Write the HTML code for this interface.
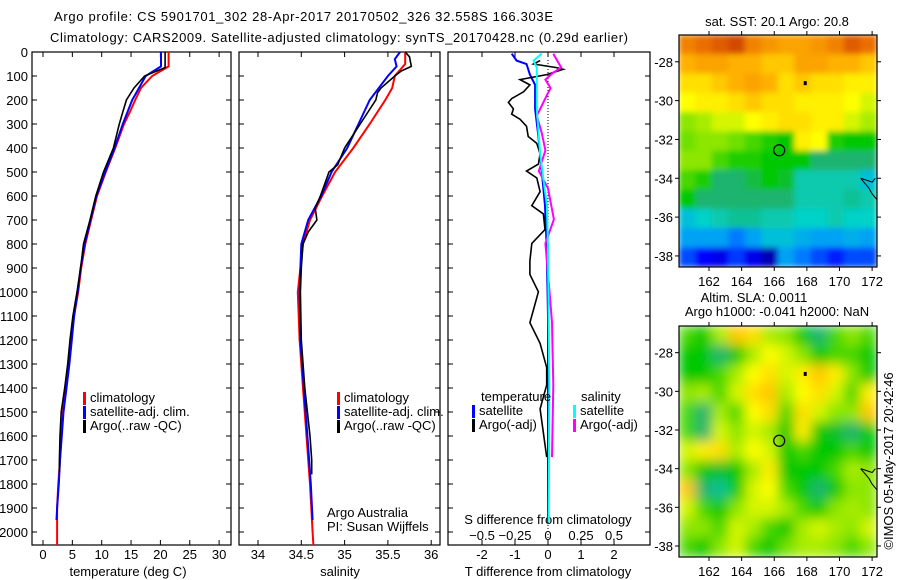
<!DOCTYPE html>
<html><head><meta charset="utf-8"><style>
body{margin:0;background:#fff}
svg{display:block;font-family:"Liberation Sans",sans-serif}
text{font-size:12px;fill:#000}
</style></head><body>
<svg id="fig" width="900" height="580" viewBox="0 0 900 580">
<text x="54" y="21" textLength="499" style="font-size:13px">Argo profile: CS 5901701_302 28-Apr-2017 20170502_326 32.558S 166.303E</text>
<text x="50" y="42" textLength="578" style="font-size:13px">Climatology: CARS2009. Satellite-adjusted climatology: synTS_20170428.nc (0.29d earlier)</text>
<g id="g"></g>
</svg>
<script>
// ---- depth profile data ----
const tClimDepth=[0,60,100,150,200,250,300,400,500,600,700,800,900,1000,1100,1200,1300,1400,1500,1600,1700,1800,1900,2000,2054];
const tClimVal=[21.4,21.4,18.6,16.7,15.7,14.8,13.8,12.3,10.7,9.2,8.2,7.2,6.5,6.0,5.3,4.8,4.4,3.9,3.4,3.1,2.9,2.6,2.4,2.4,2.4];
const tSatDepth=[0,60,100,200,300,400,500,600,700,800,900,1000,1100,1200,1300,1400,1500,1600,1700,1800,1900,1950];
const tSatVal=[20.1,20.1,17.5,15.2,13.6,12.2,10.6,9.1,8.1,7.1,6.4,5.9,5.3,4.9,4.5,4.0,3.5,3.2,2.9,2.7,2.4,2.3];
const tArgoDepth=[0,65,100,150,200,250,300,400,500,600,700,800,900,1000,1100,1200,1300,1400,1500,1600,1700,1750];
const tArgoVal=[20.8,20.8,17.3,15.5,14.2,13.6,13.0,12.0,10.3,9.0,8.0,6.9,6.4,5.8,5.1,4.6,4.2,3.7,3.1,2.9,2.8,2.8];
const sClimDepth=[0,50,100,150,200,300,400,500,600,700,800,900,1000,1200,1400,1600,1800,2000,2054];
const sClimVal=[35.70,35.70,35.58,35.55,35.47,35.29,35.10,34.89,34.74,34.60,34.52,34.49,34.46,34.48,34.52,34.56,34.60,34.63,34.64];
const sSatDepth=[0,30,60,100,200,300,400,500,600,700,800,900,1000,1200,1400,1600,1800,1950];
const sSatVal=[35.64,35.58,35.60,35.50,35.29,35.16,35.03,34.85,34.73,34.58,34.50,34.49,34.48,34.49,34.53,34.57,34.61,34.63];
const sArgoDepth=[0,20,60,80,100,150,170,200,250,300,400,470,500,600,650,700,750,800,900,1000,1200,1400,1600,1700,1760];
const sArgoVal=[35.70,35.75,35.77,35.65,35.58,35.42,35.38,35.36,35.27,35.18,35.00,34.92,34.82,34.72,34.66,34.68,34.58,34.52,34.50,34.49,34.50,34.54,34.60,34.62,34.62];
const dTArgoDepth=[36,50,65,72,94,115,137,166,194,210,237,259,280,309,352,381,424,467,496,525,582,640,675,740,798,870,927,999,1128,1214,1315,1387,1487,1688];
const dTArgoVal=[-0.24,-0.44,0.26,0.46,-0.04,-0.85,-0.55,-0.74,-1.1,-1.2,-1.05,-1.1,-0.85,-0.65,-0.6,-0.34,-0.24,-0.29,-0.65,-0.34,-0.24,-0.49,-0.14,-0.09,-0.49,-0.55,-0.55,-0.29,-0.55,-0.24,-0.04,-0.04,-0.24,-0.04];
const dTSatDepth=[7,36,50,94,137,237,352,496,640,812,1100,1960];
const dTSatVal=[-1.1,-0.95,-0.65,-0.55,-0.39,-0.39,-0.29,-0.19,-0.09,-0.04,0,0];
const dSSatDepth=[7,36,65,237,424,640,812,1387,1960];
const dSSatVal=[-0.048,-0.11,-0.085,-0.085,-0.06,-0.008,0,0.01,0.005];
const dSArgoDepth=[7,65,86,115,151,180,266,338,410,496,568,625,697,798,956,1128,1387,1688];
const dSArgoVal=[0.04,0.10,0.04,-0.02,0.02,-0.008,-0.085,-0.047,-0.02,-0.07,0,0.02,0.045,-0.02,0.005,0.03,0.04,0.03];
const depthTicks=[0,100,200,300,400,500,600,700,800,900,1000,1100,1200,1300,1400,1500,1600,1700,1800,1900,2000];
const tTicks=[0,5,10,15,20,25,30];
const sTicks=[34,34.5,35,35.5,36];
const dTTicks=[-2,-1,0,1,2];
const dSTicks=[-0.5,-0.25,0,0.25,0.5];
// ---- map data (rows north->south, cols west->east) ----
const sstGrid=[
[0.85,0.88,0.9,0.92,0.85,0.82,0.8,0.8,0.82,0.85,0.9,0.88],
[0.78,0.8,0.8,0.78,0.78,0.75,0.75,0.8,0.8,0.78,0.78,0.75],
[0.72,0.72,0.75,0.78,0.8,0.78,0.72,0.75,0.72,0.72,0.7,0.7],
[0.68,0.7,0.7,0.72,0.75,0.72,0.72,0.7,0.7,0.7,0.68,0.65],
[0.6,0.62,0.65,0.65,0.68,0.7,0.72,0.72,0.7,0.7,0.65,0.62],
[0.58,0.6,0.6,0.58,0.55,0.52,0.5,0.7,0.68,0.52,0.5,0.5],
[0.6,0.6,0.55,0.52,0.52,0.5,0.5,0.5,0.45,0.45,0.45,0.45],
[0.55,0.52,0.45,0.45,0.47,0.5,0.48,0.4,0.4,0.4,0.4,0.35],
[0.5,0.45,0.45,0.45,0.45,0.45,0.45,0.4,0.4,0.4,0.42,0.4],
[0.35,0.38,0.4,0.42,0.42,0.4,0.4,0.38,0.38,0.4,0.38,0.38],
[0.3,0.3,0.3,0.25,0.3,0.35,0.35,0.32,0.3,0.3,0.32,0.3],
[0.2,0.12,0.1,0.18,0.1,0.05,0.3,0.25,0.2,0.15,0.2,0.2]];
const slaGrid=[
[0.55,0.5,0.62,0.75,0.72,0.62,0.6,0.5,0.45,0.55,0.6,0.55],
[0.5,0.5,0.45,0.5,0.62,0.68,0.65,0.6,0.5,0.55,0.55,0.5],
[0.5,0.5,0.55,0.62,0.68,0.72,0.65,0.7,0.75,0.7,0.6,0.5],
[0.6,0.62,0.55,0.65,0.72,0.75,0.62,0.68,0.72,0.65,0.55,0.7],
[0.55,0.45,0.62,0.55,0.68,0.72,0.55,0.72,0.65,0.6,0.6,0.75],
[0.55,0.45,0.65,0.6,0.65,0.62,0.5,0.7,0.5,0.48,0.45,0.5],
[0.65,0.7,0.72,0.62,0.68,0.65,0.5,0.55,0.5,0.5,0.55,0.5],
[0.6,0.5,0.48,0.5,0.62,0.7,0.5,0.5,0.5,0.55,0.62,0.6],
[0.75,0.45,0.42,0.5,0.65,0.68,0.55,0.5,0.45,0.5,0.6,0.6],
[0.65,0.55,0.5,0.6,0.65,0.65,0.62,0.55,0.5,0.6,0.62,0.6],
[0.6,0.6,0.55,0.65,0.62,0.55,0.5,0.62,0.65,0.62,0.6,0.65],
[0.55,0.5,0.6,0.65,0.55,0.5,0.58,0.62,0.62,0.6,0.55,0.6]];
const lonTicks=[162,164,166,168,170,172];
const latTicks=[-28,-30,-32,-34,-36,-38];
const argoLon=166.303, argoLat=-32.558;

const NS='http://www.w3.org/2000/svg';
const G=document.getElementById('g');
function el(tag,attrs,parent){const e=document.createElementNS(NS,tag);for(const k in attrs)e.setAttribute(k,attrs[k]);(parent||G).appendChild(e);return e;}
function txt(x,y,s,anchor,size,parent){const t=el('text',{x:x,y:y,'text-anchor':anchor||'start'},parent);if(size)t.style.fontSize=size+'px';t.textContent=s;return t;}

const yTop=52,yBot=545;
const yD=d=>yTop+d*0.24;
const panels=[{x0:32,x1:231,name:'temperature-panel'},{x0:239,x1:440,name:'salinity-panel'},{x0:448,x1:650,name:'difference-panel'}];
const xT=v=>43+5.87*v, xS=v=>258+86.6*(v-34), xDT=v=>548+33*v, xDS=v=>548+132*v;

panels.forEach(p=>{
  const r=el('rect',{x:p.x0,y:yTop,width:p.x1-p.x0,height:yBot-yTop,fill:'none',stroke:'#000','stroke-width':1.2});
  
  
  depthTicks.forEach(d=>{
    el('line',{x1:p.x0,x2:p.x0+5,y1:yD(d),y2:yD(d),stroke:'#000'});
    el('line',{x1:p.x1-5,x2:p.x1,y1:yD(d),y2:yD(d),stroke:'#000'});
  });
});
depthTicks.forEach(d=>{const t=txt(28,yD(d)+5,String(d),'end',13);
  
  });
function xticks(ticks,fx,ly){ticks.forEach(v=>{const x=fx(v);
  el('line',{x1:x,x2:x,y1:yBot-5,y2:yBot,stroke:'#000'});el('line',{x1:x,x2:x,y1:yTop,y2:yTop+5,stroke:'#000'});
  const t=txt(x,ly,String(v),'middle',13);
  
  });}
xticks(tTicks,xT,559);
xticks(sTicks,xS,559);
xticks(dTTicks,xDT,559);
dSTicks.forEach(v=>{const t=txt(xDS(v),540,String(v).replace('-','\u2212'),'middle',13);
  
  });
[[128,'temperature (deg C)','temperature-axis-title'],[340,'salinity','salinity-axis-title'],[548,'T difference from climatology','t-diff-axis-title']].forEach(a=>{
  const t=txt(a[0],576,a[1],'middle',13);
  
  });
const sdt=txt(548,524,'S difference from climatology','middle',13);


el('line',{x1:548,x2:548,y1:60,y2:545,stroke:'#000','stroke-dasharray':'1,2'});

function line(ds,vs,fx,color,w,name){
  const pts=ds.map((d,i)=>fx(vs[i]).toFixed(1)+','+yD(d).toFixed(1)).join(' ');
  const l=el('polyline',{points:pts,fill:'none',stroke:color,'stroke-width':w});
  
  
}
line(tClimDepth,tClimVal,xT,'#f00',2,'temp-climatology-line');
line(tSatDepth,tSatVal,xT,'#00f',2,'temp-satellite-line');
line(tArgoDepth,tArgoVal,xT,'#000',1.6,'temp-argo-line');
line(sClimDepth,sClimVal,xS,'#f00',2,'sal-climatology-line');
line(sSatDepth,sSatVal,xS,'#00f',2,'sal-satellite-line');
line(sArgoDepth,sArgoVal,xS,'#000',1.6,'sal-argo-line');
line(dTSatDepth,dTSatVal,xDT,'#00f',2,'t-diff-satellite-line');
line(dTArgoDepth,dTArgoVal,xDT,'#000',1.6,'t-diff-argo-line');
line(dSArgoDepth,dSArgoVal,xDS,'#f0f',2,'s-diff-argo-line');
line(dSSatDepth,dSSatVal,xDS,'#0ff',2,'s-diff-satellite-line');

function legend(x,y,color,label,name){
  const m=el('rect',{x:x,y:y-10,width:3,height:13,fill:color});
  
  
  const t=txt(x+7,y,label,'start',13);
  
  
}
legend(83,402,'#f00','climatology','legend-climatology');
legend(83,416,'#00f','satellite-adj. clim.','legend-satellite-adj');
legend(83,430,'#000','Argo(..raw -QC)','legend-argo');
legend(337,402,'#f00','climatology','legend-sal-climatology');
legend(337,416,'#00f','satellite-adj. clim.','legend-sal-satellite-adj');
legend(337,430,'#000','Argo(..raw -QC)','legend-sal-argo');
const lt=txt(481,401,'temperature','start',13);
const ls=txt(581,401,'salinity','start',13);
legend(472,415,'#00f','satellite','legend-t-satellite');
legend(472,429,'#000','Argo(-adj)','legend-t-argo');
legend(573,415,'#0ff','satellite','legend-s-satellite');
legend(573,429,'#f0f','Argo(-adj)','legend-s-argo');
const a1=txt(327,517,'Argo Australia','start',13);
const a2=txt(327,531,'PI: Susan Wijffels','start',13);

// ---- maps ----
const stops=[[0,[0,0,128]],[0.12,[0,0,255]],[0.28,[0,150,255]],[0.38,[0,210,200]],[0.45,[30,180,110]],[0.5,[0,200,0]],[0.6,[140,230,0]],[0.68,[255,255,0]],[0.78,[255,176,0]],[0.88,[235,110,0]],[1,[160,0,0]]];
function cmap(v){for(let i=1;i<stops.length;i++){if(v<=stops[i][0]){const a=stops[i-1],b=stops[i],t=(v-a[0])/(b[0]-a[0]);return 'rgb('+a[1].map((c,k)=>Math.round(c+(b[1][k]-c)*t)).join(',')+')';}}return 'rgb(160,0,0)';}
const lon0=160.16,lon1=172.3,lat0=-26.62,lat1=-38.57;
const defs=el('defs',{});
const flt=el('filter',{id:'blur',x:'-5%',y:'-5%',width:'110%',height:'110%'},defs);el('feGaussianBlur',{stdDeviation:6},flt);
const flt2=el('filter',{id:'blurs',x:'-5%',y:'-5%',width:'110%',height:'110%'},defs);el('feGaussianBlur',{stdDeviation:3},flt2);
function drawMap(y0,y1,grid,name,blurId){
  const x0=679,x1=877;
  const fx=l=>x0+(l-lon0)/(lon1-lon0)*(x1-x0), fy=l=>y0+(l-lat0)/(lat1-lat0)*(y1-y0);
  const cid='clip'+name;
  const cp=el('clipPath',{id:cid},defs);el('rect',{x:x0,y:y0,width:x1-x0,height:y1-y0},cp);
  const gg=el('g',{'clip-path':'url(#'+cid+')'});
  const inner=el('g',{filter:'url(#'+blurId+')'},gg);
  const nr=grid.length,nc=grid[0].length,cw=(x1-x0)/nc,ch=(y1-y0)/nr;
  grid.forEach((row,r)=>row.forEach((v,c)=>{
    const cell=el('rect',{x:(x0+c*cw-0.3).toFixed(1),y:(y0+r*ch-0.3).toFixed(1),width:(cw+0.6).toFixed(1),height:(ch+0.6).toFixed(1),fill:cmap(v)},inner);
    
    
  }));
  el('path',{d:'M'+fx(171.3)+','+fy(-34)+' L'+fx(171.8)+','+fy(-34.5)+' L'+fx(172.0)+','+fy(-34.8)+' L'+fx(172.3)+','+fy(-35.1)+' M'+fx(171.3)+','+fy(-34)+' L'+fx(172)+','+fy(-34.2)+' L'+fx(172.2)+','+fy(-34),fill:'none',stroke:'#000','stroke-width':1},gg);
  const fr=el('rect',{x:x0,y:y0,width:x1-x0,height:y1-y0,fill:'none',stroke:'#000','stroke-width':1.2});
  
  
  lonTicks.forEach(l=>{const x=fx(l);el('line',{x1:x,x2:x,y1:y0-4,y2:y0,stroke:'#000'});el('line',{x1:x,x2:x,y1:y1,y2:y1+4,stroke:'#000'});
    const t=txt(x,y1+19,String(l),'middle',13);});
  latTicks.forEach(l=>{const y=fy(l);el('line',{x1:x0-4,x2:x0,y1:y,y2:y,stroke:'#000'});el('line',{x1:x1,x2:x1+4,y1:y,y2:y,stroke:'#000'});
    const t=txt(x0-6,y+5,String(l),'end',13);});
  const c=el('circle',{cx:fx(argoLon),cy:fy(argoLat),r:5.5,fill:'none',stroke:'#000','stroke-width':1.2});
  
  
  el('rect',{x:fx(167.9)-1.5,y:fy(-29.1)-2,width:3,height:4,fill:'#000'});
}
drawMap(35,267,sstGrid,'sst-map','blurs');
drawMap(326,557,slaGrid,'sla-map','blur');
const m1=txt(777,26,'sat. SST: 20.1  Argo: 20.8','middle',13);
const m2=txt(754,302,'Altim. SLA: 0.0011','middle',13);
const m3=txt(777,316,'Argo h1000: -0.041 h2000: NaN','middle',13);
const cr=txt(0,0,'\u00A9IMOS 05-May-2017 20:42:46','middle',13);
cr.setAttribute('transform','translate(893,461) rotate(-90)');


</script>
</body></html>
